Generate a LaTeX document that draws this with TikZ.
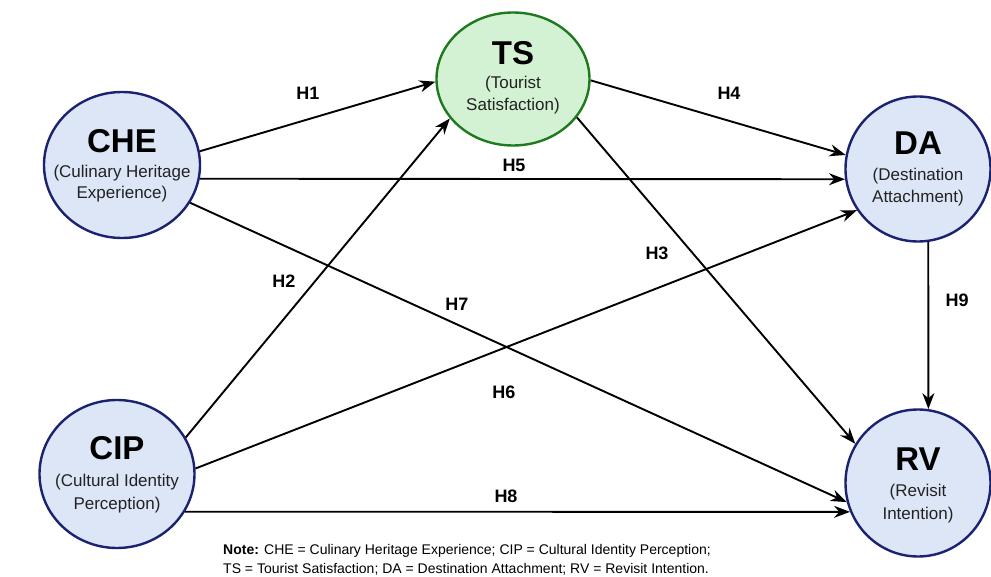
\documentclass[tikz,border=0pt]{standalone}
\usepackage{fontspec}
\setmainfont{Liberation Sans}
\usetikzlibrary{shapes.geometric,arrows.meta}
\definecolor{nodeblue}{HTML}{DCE6F7}
\definecolor{navy}{HTML}{1B2270}
\definecolor{nodegreen}{HTML}{D3F2D3}
\definecolor{darkgreen}{HTML}{1F7A1F}
\definecolor{subtext}{HTML}{222222}
\tikzset{
  construct/.style={ellipse, draw=navy, fill=nodeblue, line width=2.4pt, inner sep=0pt},
  tsnode/.style={construct, draw=darkgreen, fill=nodegreen},
  ttl/.style={anchor=base, inner sep=0pt, font=\fontsize{33}{35}\selectfont\bfseries},
  sub/.style={anchor=base, inner sep=0pt, text=subtext, font=\fontsize{17}{20}\selectfont},
  hyp/.style={inner sep=0pt, font=\fontsize{18}{20}\selectfont\bfseries},
  path/.style={line width=1.9pt, -{Stealth[length=16pt,width=12pt]}},
  notetext/.style={anchor=base west, inner sep=0pt, font=\fontsize{14}{16}\selectfont}
}
\begin{document}
\begin{tikzpicture}[x=1pt,y=-1pt]
\useasboundingbox[fill=white] (0,0) rectangle (991,577);
% constructs
\node[construct, minimum width=156pt, minimum height=146pt] (che) at (122,165) {};
\node[tsnode, minimum width=153pt, minimum height=133pt] (ts) at (513,79) {};
\node[construct, minimum width=145pt, minimum height=145pt] (da) at (918,169) {};
\node[construct, minimum width=155pt, minimum height=148pt] (cip) at (117,474) {};
\node[construct, minimum width=145pt, minimum height=147pt] (rv) at (918,483) {};
% texts
\node[ttl] (che-t) at (122,153) {CHE};
\node[sub] (che-s1) at (122,178) {(Culinary Heritage};
\node[sub] (che-s2) at (122,199) {Experience)};
\node[ttl] (ts-t) at (513,65) {TS};
\node[sub] (ts-s1) at (513,89) {(Tourist};
\node[sub] (ts-s2) at (513,111) {Satisfaction)};
\node[ttl] (da-t) at (918,155) {DA};
\node[sub] (da-s1) at (918,181) {(Destination};
\node[sub] (da-s2) at (918,203) {Attachment)};
\node[ttl] (cip-t) at (117,459) {CIP};
\node[sub] (cip-s1) at (117,486) {(Cultural Identity};
\node[sub] (cip-s2) at (117,509) {Perception)};
\node[ttl] (rv-t) at (918,470) {RV};
\node[sub] (rv-s1) at (918,496) {(Revisit};
\node[sub] (rv-s2) at (918,519) {Intention)};
% paths
\draw[path] (che.10) -- (ts.182);
\draw[path] (che.-10.6) -- (da.188);
\draw[path] (che.-29) -- (rv.195);
\draw[path] (cip.28) -- (ts.212);
\draw[path] (cip.4) -- (da.214.5);
\draw[path] (cip.-29.6) -- (rv.203.8);
\draw[path] (ts.-31) -- (rv.148);
\draw[path] (ts.-1) -- (da.169);
\draw[path] (da.-82) -- (rv.82);
% hypothesis labels
\node[hyp] (h1) at (308,93) {H1};
\node[hyp] (h2) at (284,281) {H2};
\node[hyp] (h3) at (657,253) {H3};
\node[hyp] (h4) at (729,93) {H4};
\node[hyp] (h5) at (514,165) {H5};
\node[hyp] (h6) at (504,392) {H6};
\node[hyp] (h7) at (457,304) {H7};
\node[hyp] (h8) at (506,496) {H8};
\node[hyp] (h9) at (957,300) {H9};
% note
\node[notetext] (note1) at (223,554) {\textbf{Note:} CHE = Culinary Heritage Experience; CIP = Cultural Identity Perception;};
\node[notetext] (note2) at (223,573) {TS = Tourist Satisfaction; DA = Destination Attachment; RV = Revisit Intention.};
\end{tikzpicture}
\end{document}
